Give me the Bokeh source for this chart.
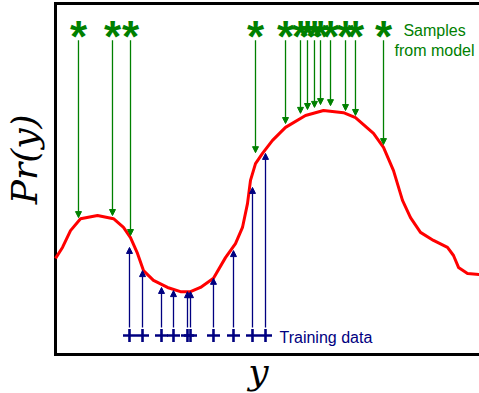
import numpy as np
from bokeh.plotting import figure
from bokeh.models import Range1d, Label, Arrow, NormalHead, ColumnDataSource
from bokeh.core.properties import value
from bokeh.embed import file_html
from bokeh.resources import INLINE

# ---- data (arbitrary units) ----
curve_x = [0.0, 0.165, 0.354, 0.590, 0.991, 1.368, 1.604, 1.769, 1.934, 2.075,
           2.311, 2.642, 2.948, 3.184, 3.420, 3.726, 4.009, 4.245, 4.410, 4.528,
           4.599, 4.717, 4.882, 5.118, 5.425, 5.896, 6.321, 6.792, 7.075, 7.500,
           7.736, 7.972, 8.184, 8.373, 8.608, 8.915, 9.245, 9.387, 9.505, 9.717, 10.0]
curve_y = [0.274, 0.305, 0.353, 0.387, 0.396, 0.387, 0.362, 0.333, 0.288, 0.239,
           0.211, 0.191, 0.179, 0.179, 0.191, 0.217, 0.276, 0.316, 0.362, 0.430,
           0.496, 0.544, 0.573, 0.610, 0.647, 0.681, 0.695, 0.689, 0.675, 0.630,
           0.590, 0.524, 0.439, 0.390, 0.348, 0.325, 0.305, 0.282, 0.248, 0.231, 0.228]

sample_x = [0.542, 1.344, 1.769, 4.717, 5.425, 5.778, 5.943, 6.108, 6.250, 6.486,
            6.840, 7.075, 7.736]
sample_pr = [0.390, 0.396, 0.339, 0.575, 0.658, 0.687, 0.698, 0.704, 0.712, 0.709,
             0.695, 0.681, 0.598]

train_x = [1.745, 2.052, 2.500, 2.783, 3.113, 3.184, 3.726, 4.198, 4.646, 4.953]
train_pr = [0.305, 0.239, 0.191, 0.182, 0.179, 0.179, 0.217, 0.296, 0.476, 0.573]

x_label = "y"
y_label = "Pr(y)"
sample_label = ["Samples", "from model"]
train_label = "Training data"

# ---- layout constants ----
X0, X1 = 0.0, 10.0
Y0, Y1 = 0.0, 1.0
STAR_Y = 0.906       # baseline of the asterisks
SAMPLE_START = 0.895
PLUS_Y = 0.054
TRAIN_START = 0.077

GREEN = "#008000"
NAVY = "#000080"

p = figure(width=479, height=393, output_backend="svg", toolbar_location=None,
           x_range=Range1d(-55 / 42.4, 10.0), y_range=Range1d(-39 / 351, 1 + 3 / 351),
           x_axis_location=None, y_axis_location=None, min_border=0)
p.grid.visible = False
p.outline_line_color = None
p.background_fill_color = "white"
p.border_fill_color = "white"

# frame (left, top, bottom; right side runs off the picture)
p.line([X1, X0, X0, X1], [Y1, Y1, Y0, Y0], line_color="black", line_width=3,
       line_join="miter")

# density curve
p.line(curve_x, curve_y, line_color="red", line_width=3, line_join="round")

# samples from model
s_src = ColumnDataSource(dict(x0=sample_x, y0=[SAMPLE_START] * len(sample_x),
                              x1=sample_x, y1=sample_pr))
p.add_layout(Arrow(end=NormalHead(size=6, line_color=GREEN, fill_color=GREEN, line_width=1),
                   source=s_src, x_start="x0", y_start="y0", x_end="x1", y_end="y1",
                   line_color=GREEN, line_width=1.3))
p.text(x=sample_x, y=[STAR_Y] * len(sample_x), text=["*"] * len(sample_x),
       text_font=value("Liberation Sans"), text_font_style="bold",
       text_font_size="44px", text_color=GREEN, text_align="center",
       text_baseline="alphabetic")

# training data
t_src = ColumnDataSource(dict(x0=train_x, y0=[TRAIN_START] * len(train_x),
                              x1=train_x, y1=train_pr))
p.add_layout(Arrow(end=NormalHead(size=6, line_color=NAVY, fill_color=NAVY, line_width=1),
                   source=t_src, x_start="x0", y_start="y0", x_end="x1", y_end="y1",
                   line_color=NAVY, line_width=1.3))
p.scatter(x=train_x, y=[PLUS_Y] * len(train_x), marker="cross", size=13,
          line_color=NAVY, line_width=2.6)

# texts
p.add_layout(Label(x=8.939, y=0.922, text=sample_label[0], text_font="Liberation Sans",
                   text_font_size="16px", text_color=GREEN, text_align="center",
                   text_baseline="alphabetic"))
p.add_layout(Label(x=8.939, y=0.866, text=sample_label[1], text_font="Liberation Sans",
                   text_font_size="16px", text_color=GREEN, text_align="center",
                   text_baseline="alphabetic"))
p.add_layout(Label(x=5.283, y=0.049, text=train_label, text_font="Liberation Sans",
                   text_font_size="16px", text_color=NAVY, text_align="left",
                   text_baseline="alphabetic"))
p.add_layout(Label(x=4.788, y=-0.049, text=x_label, text_font="DejaVu Serif",
                   text_font_style="italic", text_font_size="36px", text_color="black",
                   text_align="center", text_baseline="alphabetic"))
p.add_layout(Label(x=-0.72, y=0.556, text=y_label, text_font="DejaVu Serif",
                   text_font_style="italic", text_font_size="36px", text_color="black",
                   text_align="center", text_baseline="alphabetic",
                   angle=90, angle_units="deg"))

open("out.html", "w").write(file_html(p, INLINE))
